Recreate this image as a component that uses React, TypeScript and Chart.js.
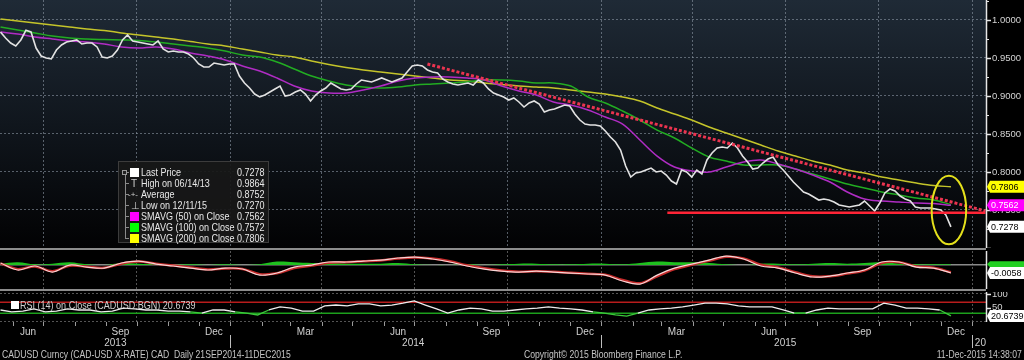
import React, { useEffect, useRef } from 'react';
import { Chart, registerables } from 'chart.js';

Chart.register(...registerables);

const SANS = '"Liberation Sans", Arial, sans-serif';

// ---------- x range ----------
const xStartDate = '2013-05-20';
const xEndDate = '2016-01-14';

// ---------- price (every 5 calendar days from start) ----------
const priceStartDate = '2013-05-20';
const priceStepDays = 5;
const priceValues = [
  0.9842, 0.9763, 0.9697, 0.9658, 0.9737, 0.9864, 0.9842, 0.9631, 0.9526, 0.9500,
  0.9487, 0.9605, 0.9671, 0.9710, 0.9724, 0.9737, 0.9684, 0.9697, 0.9697, 0.9645,
  0.9513, 0.9500, 0.9526, 0.9605, 0.9737, 0.9802, 0.9724, 0.9710, 0.9697, 0.9684,
  0.9671, 0.9724, 0.9618, 0.9579, 0.9592, 0.9579, 0.9579, 0.9552, 0.9500, 0.9421,
  0.9381, 0.9381, 0.9434, 0.9421, 0.9408, 0.9421, 0.9421, 0.9263, 0.9171, 0.9105,
  0.9026, 0.8987, 0.9013, 0.9052, 0.9092, 0.9131, 0.9000, 0.9013, 0.9052, 0.9079,
  0.9026, 0.8934, 0.9013, 0.9066, 0.9105, 0.9171, 0.9131, 0.9092, 0.9079, 0.9092,
  0.9158, 0.9210, 0.9197, 0.9184, 0.9210, 0.9237, 0.9210, 0.9184, 0.9210, 0.9237,
  0.9316, 0.9395, 0.9408, 0.9395, 0.9342, 0.9316, 0.9302, 0.9224, 0.9184, 0.9158,
  0.9145, 0.9158, 0.9171, 0.9145, 0.9210, 0.9171, 0.9092, 0.9039, 0.9013, 0.8987,
  0.8947, 0.8974, 0.8921, 0.8855, 0.8908, 0.8934, 0.8895, 0.8789, 0.8816, 0.8829,
  0.8855, 0.8881, 0.8868, 0.8763, 0.8684, 0.8631, 0.8618, 0.8618, 0.8605, 0.8539,
  0.8460, 0.8395, 0.8289, 0.8079, 0.7934, 0.7987, 0.8000, 0.8026, 0.8052, 0.8000,
  0.8013, 0.7960, 0.7881, 0.7842, 0.8026, 0.8000, 0.7934, 0.8026, 0.7974, 0.8158,
  0.8250, 0.8316, 0.8329, 0.8316, 0.8381, 0.8316, 0.8210, 0.8131, 0.8039, 0.8052,
  0.8118, 0.8171, 0.8197, 0.8092, 0.8026, 0.7947, 0.7868, 0.7802, 0.7737, 0.7710,
  0.7671, 0.7631, 0.7645, 0.7631, 0.7605, 0.7566, 0.7552, 0.7539, 0.7552, 0.7566,
  0.7618, 0.7552, 0.7487, 0.7592, 0.7724, 0.7776, 0.7750, 0.7684, 0.7645, 0.7618,
  0.7539, 0.7526, 0.7526, 0.7526, 0.7513, 0.7500, 0.7434, 0.7278,
];

// ---------- moving averages (every 17 days) ----------
const smaStartDate = '2013-05-20';
const smaStepDays = 17;
const sma50Values = [
  0.9842, 0.9816, 0.9776, 0.9750, 0.9724, 0.9710, 0.9684, 0.9645, 0.9631, 0.9645,
  0.9618, 0.9566, 0.9526, 0.9474, 0.9395, 0.9329, 0.9237, 0.9131, 0.9066, 0.9039,
  0.9039, 0.9079, 0.9131, 0.9197, 0.9237, 0.9250, 0.9250, 0.9237, 0.9210, 0.9131,
  0.9066, 0.9013, 0.8921, 0.8881, 0.8816, 0.8724, 0.8631, 0.8421, 0.8210, 0.8066,
  0.8013, 0.8000, 0.8066, 0.8131, 0.8158, 0.8105, 0.8039, 0.7960, 0.7868, 0.7737,
  0.7645, 0.7618, 0.7605, 0.7592, 0.7585, 0.7562,
];
const sma100Values = [
  0.9908, 0.9868, 0.9829, 0.9789, 0.9763, 0.9750, 0.9743, 0.9737, 0.9730, 0.9710,
  0.9684, 0.9658, 0.9631, 0.9592, 0.9539, 0.9513, 0.9447, 0.9355, 0.9263, 0.9197,
  0.9145, 0.9118, 0.9105, 0.9118, 0.9145, 0.9158, 0.9171, 0.9184, 0.9210, 0.9210,
  0.9197, 0.9171, 0.9171, 0.9131, 0.8987, 0.8908, 0.8802, 0.8684, 0.8552, 0.8447,
  0.8316, 0.8197, 0.8145, 0.8092, 0.8092, 0.8092, 0.8039, 0.7974, 0.7908, 0.7842,
  0.7789, 0.7737, 0.7697, 0.7658, 0.7631, 0.7572,
];
const sma200Values = [
  1.0013, 0.9987, 0.9960, 0.9934, 0.9908, 0.9881, 0.9862, 0.9829, 0.9802, 0.9776,
  0.9750, 0.9717, 0.9684, 0.9658, 0.9618, 0.9579, 0.9539, 0.9513, 0.9460, 0.9414,
  0.9375, 0.9342, 0.9316, 0.9289, 0.9263, 0.9237, 0.9210, 0.9197, 0.9171, 0.9151,
  0.9131, 0.9118, 0.9105, 0.9079, 0.9052, 0.9026, 0.8987, 0.8934, 0.8842, 0.8763,
  0.8684, 0.8592, 0.8513, 0.8434, 0.8355, 0.8276, 0.8210, 0.8145, 0.8092, 0.8026,
  0.7987, 0.7934, 0.7895, 0.7855, 0.7822, 0.7806,
];

// ---------- drawn annotations ----------
const trendLineDates = ['2014-07-14', '2016-01-14'];
const trendLineValues = [0.9421, 0.7487];
const supportLineDates = ['2015-03-07', '2016-01-14'];
const supportLineValues = [0.7465, 0.7465];
const highlightCenterDate = '2015-12-09';
const highlightCenterValue = 0.75;
const highlightHalfDays = 17;
const highlightHalfValue = 0.045;

// ---------- MACD (every 17 days) ----------
const macdStartDate = '2013-05-20';
const macdStepDays = 17;
const macdValues = [
  0.0015, -0.0036, -0.0007, -0.0051, 0.0000, -0.0015, -0.0022, 0.0015, 0.0029, 0.0007,
  -0.0007, -0.0022, -0.0036, -0.0022, -0.0029, -0.0073, -0.0058, -0.0015, 0.0000, 0.0022,
  0.0022, 0.0029, 0.0036, 0.0051, 0.0058, 0.0044, 0.0022, -0.0007, -0.0029, -0.0044,
  -0.0051, -0.0044, -0.0051, -0.0058, -0.0065, -0.0073, -0.0116, -0.0138, -0.0073, -0.0022,
  0.0007, 0.0036, 0.0065, 0.0044, -0.0007, -0.0022, -0.0058, -0.0087, -0.0080, -0.0058,
  -0.0036, 0.0022, 0.0022, -0.0015, -0.0022, -0.0058,
];
const macdSignalValues = [
  0.0012, -0.0030, -0.0010, -0.0045, -0.0005, -0.0012, -0.0020, 0.0010, 0.0025, 0.0010,
  -0.0004, -0.0018, -0.0032, -0.0025, -0.0028, -0.0066, -0.0060, -0.0022, -0.0004, 0.0016,
  0.0021, 0.0027, 0.0033, 0.0047, 0.0055, 0.0047, 0.0027, -0.0002, -0.0024, -0.0040,
  -0.0049, -0.0045, -0.0049, -0.0056, -0.0063, -0.0071, -0.0108, -0.0132, -0.0082, -0.0030,
  0.0002, 0.0031, 0.0060, 0.0048, 0.0002, -0.0018, -0.0052, -0.0082, -0.0081, -0.0062,
  -0.0040, 0.0015, 0.0021, -0.0010, -0.0020, -0.0052,
];
const macdHistValues = [
  0.0010, 0.0020, 0.0005, 0.0010, 0.0020, 0.0005, 0.0000, 0.0015, 0.0010, 0.0005,
  0.0000, 0.0005, 0.0000, 0.0005, 0.0000, 0.0005, 0.0025, 0.0020, 0.0015, 0.0015,
  0.0010, 0.0010, 0.0010, 0.0015, 0.0005, 0.0000, 0.0000, 0.0005, 0.0000, 0.0005,
  0.0010, 0.0010, 0.0005, 0.0005, 0.0010, 0.0010, 0.0005, 0.0015, 0.0025, 0.0020,
  0.0020, 0.0015, 0.0005, 0.0000, 0.0010, 0.0010, 0.0005, 0.0010, 0.0015, 0.0010,
  0.0015, 0.0020, 0.0010, 0.0005, 0.0005, 0.0005,
];

// ---------- RSI (every 11 days) ----------
const rsiStartDate = '2013-05-20';
const rsiStepDays = 11;
const rsiValues = [
  42, 35, 38, 46, 35, 38, 46, 42, 42, 35,
  38, 49, 46, 42, 42, 38, 38, 35, 31, 42,
  42, 35, 31, 24, 42, 53, 49, 38, 38, 57,
  60, 57, 64, 64, 57, 60, 67, 75, 60, 46,
  31, 42, 49, 46, 38, 38, 42, 46, 49, 53,
  49, 46, 42, 35, 31, 24, 20, 31, 42, 46,
  49, 53, 60, 67, 67, 64, 57, 53, 53, 53,
  42, 31, 31, 42, 49, 46, 46, 46, 46, 67,
  60, 49, 49, 46, 42, 20.6739,
];
const rsiUpperLevel = 70;
const rsiLowerLevel = 30;

// ---------- axes ----------
const mainMin = 0.70;
const mainMax = 1.0263;
const mainTicks = [0.75, 0.8, 0.85, 0.9, 0.95, 1.0];
const mainMinorTicks = [0.725, 0.775, 0.825, 0.875, 0.925, 0.975, 1.025];
const macdMin = -0.0174;
const macdMax = 0.0102;
const rsiMin = -1.5;
const rsiMax = 107.2;
const rsiTicks = [0, 50, 100];

const gridDates = [
  '2013-07-01', '2013-10-01', '2014-01-01', '2014-04-01', '2014-07-01', '2014-10-01',
  '2015-01-01', '2015-04-01', '2015-07-01', '2015-10-01', '2016-01-01',
];
const monthTickDates = [
  '2013-06-01', '2013-07-01', '2013-08-01', '2013-09-01', '2013-10-01', '2013-11-01', '2013-12-01',
  '2014-01-01', '2014-02-01', '2014-03-01', '2014-04-01', '2014-05-01', '2014-06-01',
  '2014-07-01', '2014-08-01', '2014-09-01', '2014-10-01', '2014-11-01', '2014-12-01',
  '2015-01-01', '2015-02-01', '2015-03-01', '2015-04-01', '2015-05-01', '2015-06-01',
  '2015-07-01', '2015-08-01', '2015-09-01', '2015-10-01', '2015-11-01', '2015-12-01', '2016-01-01',
];
const monthLabelDates = [
  '2013-06-16', '2013-09-15', '2013-12-16', '2014-03-16', '2014-06-15', '2014-09-15',
  '2014-12-16', '2015-03-16', '2015-06-15', '2015-09-15', '2015-12-16',
];
const monthLabelTexts = ['Jun', 'Sep', 'Dec', 'Mar', 'Jun', 'Sep', 'Dec', 'Mar', 'Jun', 'Sep', 'Dec'];
const yearLabelDates = ['2013-09-10', '2014-06-30', '2015-07-01', '2016-01-09'];
const yearLabelTexts = ['2013', '2014', '2015', '20'];
const yearSepDates = ['2014-01-01', '2015-01-01', '2016-01-01'];

// ---------- legend ----------
const legendLabels = [
  'Last Price', 'High on 06/14/13', 'Average', 'Low on 12/11/15',
  'SMAVG (50) on Close', 'SMAVG (100) on Close', 'SMAVG (200) on Close',
];
const legendValues = ['0.7278', '0.9864', '0.8752', '0.7270', '0.7562', '0.7572', '0.7806'];
const legendSwatches = ['#ffffff', '', '', '', '#ff00ff', '#00ff00', '#ffff00'];
const legendGlyphs = ['', 'T', '-+-', '⊥', '', '', ''];

const footerLeft = 'CADUSD Curncy (CAD-USD X-RATE) CAD  Daily 21SEP2014-11DEC2015';
const footerMid = 'Copyright\u00a9 2015 Bloomberg Finance L.P.';
const footerRight = '11-Dec-2015 14:38:07';
const rsiLegendText = 'RSI (14) on Close (CADUSD BGN) 20.6739';

// ---------- helpers ----------
const dayNum = (s: string) => {
  const [y, m, d] = s.split('-').map(Number);
  return Date.UTC(y, m - 1, d) / 86400000;
};
const xMin = dayNum(xStartDate) - 0.5;
const xMax = dayNum(xEndDate) + 0.5;
const stepPoints = (start: string, step: number, values: number[]) =>
  values.map((v, i) => ({ x: dayNum(start) + i * step, y: v }));
const datedPoints = (dates: string[], values: number[]) =>
  dates.map((d, i) => ({ x: dayNum(d), y: values[i] }));
const last = (a: number[]) => a[a.length - 1];

const GRID = 'rgba(140,152,165,0.6)';
const GRID_LOW = 'rgba(120,120,120,0.7)';

const xScale = (height: number, color: string) => ({
  type: 'linear',
  min: xMin,
  max: xMax,
  afterBuildTicks: (s: any) => {
    s.ticks = gridDates.map((d) => ({ value: dayNum(d) }));
  },
  ticks: { display: false },
  grid: { color, lineWidth: 1, drawTicks: false },
  border: { display: false, dash: [2, 2] },
  afterFit: (s: any) => {
    s.height = height;
    s.paddingLeft = 0;
    s.paddingRight = 0;
  },
});

const fixRight = (s: any) => {
  s.width = 38;
  s.paddingTop = 0;
  s.paddingBottom = 0;
};

type Tag = { value: number; text: string; bg: string; fg: string; h?: number };

const tagsPlugin = (tags: Tag[]) => ({
  id: 'tags',
  afterDraw(chart: any) {
    const { ctx, chartArea, scales } = chart;
    ctx.save();
    tags.forEach((t) => {
      const py = scales.y.getPixelForValue(t.value);
      const x0 = chartArea.right + 1;
      const h = t.h || 12;
      const w = 37;
      ctx.beginPath();
      ctx.moveTo(x0, py);
      ctx.lineTo(x0 + 3, py - h / 2);
      ctx.lineTo(x0 + w, py - h / 2);
      ctx.lineTo(x0 + w, py + h / 2);
      ctx.lineTo(x0 + 3, py + h / 2);
      ctx.closePath();
      ctx.fillStyle = t.bg;
      ctx.fill();
      if (t.text) {
        ctx.fillStyle = t.fg;
        ctx.font = `9px ${SANS}`;
        ctx.textAlign = 'left';
        ctx.textBaseline = 'middle';
        ctx.fillText(t.text, x0 + 4, py + 0.5);
      }
    });
    ctx.restore();
  },
});

const axisMarksPlugin = (majors: number[], minors: number[]) => ({
  id: 'axisMarks',
  afterDraw(chart: any) {
    const { ctx, chartArea, scales } = chart;
    ctx.save();
    ctx.strokeStyle = '#e6e6e6';
    ctx.lineWidth = 1.5;
    ctx.beginPath();
    ctx.moveTo(chartArea.right + 0.5, chartArea.top);
    ctx.lineTo(chartArea.right + 0.5, chartArea.bottom);
    ctx.stroke();
    majors.forEach((v) => {
      const py = Math.round(scales.y.getPixelForValue(v)) + 0.5;
      ctx.beginPath();
      ctx.moveTo(chartArea.right, py);
      ctx.lineTo(chartArea.right + 5, py);
      ctx.stroke();
    });
    ctx.lineWidth = 1;
    minors.forEach((v) => {
      const py = Math.round(scales.y.getPixelForValue(v)) + 0.5;
      ctx.beginPath();
      ctx.moveTo(chartArea.right, py);
      ctx.lineTo(chartArea.right + 3, py);
      ctx.stroke();
    });
    ctx.restore();
  },
});

const bgPlugin = {
  id: 'bg',
  beforeDraw(chart: any) {
    const { ctx, chartArea } = chart;
    const g = ctx.createLinearGradient(0, chartArea.top, 0, chartArea.bottom);
    g.addColorStop(0, '#1f2a36');
    g.addColorStop(0.5, '#10161d');
    g.addColorStop(1, '#020203');
    ctx.save();
    ctx.fillStyle = g;
    ctx.fillRect(chartArea.left, chartArea.top, chartArea.right - chartArea.left, chartArea.bottom - chartArea.top);
    ctx.restore();
  },
};

const ellipsePlugin = {
  id: 'highlight',
  afterDatasetsDraw(chart: any) {
    const { ctx, scales } = chart;
    const cx = scales.x.getPixelForValue(dayNum(highlightCenterDate));
    const cy = scales.y.getPixelForValue(highlightCenterValue);
    const rx = scales.x.getPixelForValue(dayNum(highlightCenterDate) + highlightHalfDays) - cx;
    const ry = cy - scales.y.getPixelForValue(highlightCenterValue + highlightHalfValue);
    ctx.save();
    ctx.strokeStyle = '#e4e01c';
    ctx.lineWidth = 2;
    ctx.beginPath();
    ctx.ellipse(cx, cy, rx, ry, 0, 0, Math.PI * 2);
    ctx.stroke();
    ctx.restore();
  },
};

const xLabelsPlugin = {
  id: 'xLabels',
  afterDraw(chart: any) {
    const { ctx, chartArea, scales } = chart;
    const x = scales.x;
    const top = chartArea.bottom;
    ctx.save();
    ctx.strokeStyle = '#9a9a9a';
    ctx.lineWidth = 1;
    monthTickDates.forEach((d) => {
      const px = Math.round(x.getPixelForValue(dayNum(d))) + 0.5;
      ctx.beginPath();
      ctx.moveTo(px, top);
      ctx.lineTo(px, top + 4);
      ctx.stroke();
    });
    ctx.strokeStyle = '#bdbdbd';
    yearSepDates.forEach((d) => {
      const px = Math.round(x.getPixelForValue(dayNum(d))) + 0.5;
      ctx.beginPath();
      ctx.moveTo(px, top + 13);
      ctx.lineTo(px, top + 26);
      ctx.stroke();
    });
    ctx.fillStyle = '#d0d0d0';
    ctx.font = `10px ${SANS}`;
    ctx.textAlign = 'center';
    ctx.textBaseline = 'middle';
    monthLabelDates.forEach((d, i) => ctx.fillText(monthLabelTexts[i], x.getPixelForValue(dayNum(d)), top + 10));
    yearLabelDates.forEach((d, i) => ctx.fillText(yearLabelTexts[i], x.getPixelForValue(dayNum(d)), top + 21));
    ctx.restore();
  },
};

const baseOptions = {
  animation: false,
  responsive: false,
  maintainAspectRatio: false,
  events: [],
  layout: { padding: 0 },
  plugins: { legend: { display: false }, tooltip: { enabled: false } },
  elements: { point: { radius: 0 } },
};

const condensed = (origin: string) => ({
  display: 'inline-block',
  transform: 'scaleX(0.82)',
  transformOrigin: origin,
});

export default function App() {
  const mainRef = useRef<HTMLCanvasElement>(null);
  const macdRef = useRef<HTMLCanvasElement>(null);
  const rsiRef = useRef<HTMLCanvasElement>(null);

  useEffect(() => {
    const charts: Chart[] = [];

    charts.push(
      new Chart(mainRef.current as HTMLCanvasElement, {
        type: 'line',
        data: {
          datasets: [
            {
              label: 'Trend',
              data: datedPoints(trendLineDates, trendLineValues),
              borderColor: '#ec3450',
              borderWidth: 3,
              borderDash: [3, 2],
              pointRadius: 0,
              order: 0,
            },
            {
              label: 'Support',
              data: datedPoints(supportLineDates, supportLineValues),
              borderColor: '#ff2436',
              borderWidth: 2.5,
              pointRadius: 0,
              order: 0,
            },
            {
              label: 'Last Price',
              data: stepPoints(priceStartDate, priceStepDays, priceValues),
              borderColor: '#e2e2e2',
              borderWidth: 1.6,
              pointRadius: 0,
              order: 1,
            },
            {
              label: 'SMAVG (50)',
              data: stepPoints(smaStartDate, smaStepDays, sma50Values),
              borderColor: '#b02cc4',
              borderWidth: 1.5,
              pointRadius: 0,
              tension: 0.35,
              order: 2,
            },
            {
              label: 'SMAVG (100)',
              data: stepPoints(smaStartDate, smaStepDays, sma100Values),
              borderColor: '#22ac22',
              borderWidth: 1.5,
              pointRadius: 0,
              tension: 0.35,
              order: 3,
            },
            {
              label: 'SMAVG (200)',
              data: stepPoints(smaStartDate, smaStepDays, sma200Values),
              borderColor: '#c4c42a',
              borderWidth: 1.5,
              pointRadius: 0,
              tension: 0.35,
              order: 4,
            },
          ],
        },
        options: {
          ...baseOptions,
          scales: {
            x: xScale(0, GRID),
            y: {
              type: 'linear',
              position: 'right',
              min: mainMin,
              max: mainMax,
              afterBuildTicks: (s: any) => {
                s.ticks = mainTicks.map((v) => ({ value: v }));
              },
              ticks: {
                color: '#d4d4d4',
                font: { family: SANS, size: 9.5 },
                padding: 6,
                callback: (v: any) => Number(v).toFixed(4),
              },
              grid: { color: GRID, lineWidth: 1, drawTicks: false },
              border: { display: false, dash: [2, 2] },
              afterFit: fixRight,
            },
          },
        } as any,
        plugins: [
          bgPlugin,
          ellipsePlugin,
          axisMarksPlugin([0.7, ...mainTicks], mainMinorTicks),
          tagsPlugin([
            { value: last(sma200Values), text: last(sma200Values).toFixed(4), bg: '#ffff00', fg: '#000' },
            { value: last(sma50Values), text: last(sma50Values).toFixed(4), bg: '#ff00ff', fg: '#fff' },
            { value: last(priceValues), text: last(priceValues).toFixed(4), bg: '#ffffff', fg: '#000' },
          ]),
        ],
      } as any)
    );

    charts.push(
      new Chart(macdRef.current as HTMLCanvasElement, {
        type: 'line',
        data: {
          datasets: [
            {
              label: 'MACD',
              data: stepPoints(macdStartDate, macdStepDays, macdValues),
              borderColor: '#f6d6d6',
              borderWidth: 1.2,
              pointRadius: 0,
              tension: 0.35,
              order: 0,
            },
            {
              label: 'Signal',
              data: stepPoints(macdStartDate, macdStepDays, macdSignalValues),
              borderColor: '#c42a2a',
              borderWidth: 2.5,
              pointRadius: 0,
              tension: 0.35,
              order: 1,
            },
            {
              label: 'Histogram',
              data: stepPoints(macdStartDate, macdStepDays, macdHistValues),
              borderWidth: 0,
              borderColor: 'rgba(0,0,0,0)',
              backgroundColor: '#1fc01f',
              fill: 'origin',
              pointRadius: 0,
              tension: 0.35,
              order: 2,
            },
          ],
        },
        options: {
          ...baseOptions,
          scales: {
            x: xScale(0, GRID_LOW),
            y: {
              type: 'linear',
              position: 'right',
              min: macdMin,
              max: macdMax,
              afterBuildTicks: (s: any) => {
                s.ticks = [{ value: 0 }];
              },
              ticks: { display: false },
              grid: { color: '#8a8a8a', lineWidth: 1.5, drawTicks: false },
              border: { display: false },
              afterFit: fixRight,
            },
          },
        } as any,
        plugins: [
          axisMarksPlugin([], []),
          tagsPlugin([
            { value: last(macdHistValues), text: '', bg: '#22d022', fg: '#000', h: 6 },
            { value: last(macdValues), text: last(macdValues).toFixed(4), bg: '#ffffff', fg: '#000' },
          ]),
        ],
      } as any)
    );

    charts.push(
      new Chart(rsiRef.current as HTMLCanvasElement, {
        type: 'line',
        data: {
          datasets: [
            {
              label: 'RSI',
              data: stepPoints(rsiStartDate, rsiStepDays, rsiValues),
              borderColor: '#ececec',
              borderWidth: 1.3,
              pointRadius: 0,
              order: 0,
              segment: {
                borderColor: (c: any) => ((c.p0.parsed.y + c.p1.parsed.y) / 2 < 34 ? '#3cc83c' : '#ececec'),
              },
            },
            {
              label: 'Upper',
              data: [{ x: xMin, y: rsiUpperLevel }, { x: xMax, y: rsiUpperLevel }],
              borderColor: '#b81c1c',
              borderWidth: 1.5,
              pointRadius: 0,
              order: 1,
            },
            {
              label: 'Lower',
              data: [{ x: xMin, y: rsiLowerLevel }, { x: xMax, y: rsiLowerLevel }],
              borderColor: '#1ca01c',
              borderWidth: 1.5,
              pointRadius: 0,
              order: 1,
            },
          ],
        },
        options: {
          ...baseOptions,
          scales: {
            x: xScale(38, GRID_LOW),
            y: {
              type: 'linear',
              position: 'right',
              min: rsiMin,
              max: rsiMax,
              afterBuildTicks: (s: any) => {
                s.ticks = rsiTicks.map((v) => ({ value: v }));
              },
              ticks: {
                color: '#d4d4d4',
                font: { family: SANS, size: 9.5 },
                padding: 6,
                callback: (v: any) => (Number(v) === 0 ? '' : String(v)),
              },
              grid: {
                color: (c: any) => (c.tick && c.tick.value === 50 ? 'rgba(0,0,0,0)' : GRID_LOW),
                lineWidth: 1,
                drawTicks: false,
              },
              border: { display: false, dash: [2, 2] },
              afterFit: fixRight,
            },
          },
        } as any,
        plugins: [
          axisMarksPlugin([100, 50], []),
          xLabelsPlugin,
          tagsPlugin([{ value: last(rsiValues), text: last(rsiValues).toFixed(4), bg: '#ffffff', fg: '#000' }]),
        ],
      } as any)
    );

    return () => charts.forEach((c) => c.destroy());
  }, []);

  const rowTop = (i: number) => 5.2 + i * 10.93;

  return (
    <div
      style={{
        position: 'absolute',
        left: 0,
        top: 0,
        width: 1024,
        height: 360,
        background: '#000',
        overflow: 'hidden',
        fontFamily: SANS,
      }}
    >
      <canvas ref={mainRef} width={1024} height={248} style={{ position: 'absolute', left: 0, top: 0 }} />
      <div style={{ position: 'absolute', left: 0, top: 248, width: 986, height: 2, background: '#8c8c8c' }} />
      <canvas ref={macdRef} width={1024} height={38} style={{ position: 'absolute', left: 0, top: 251 }} />
      <div style={{ position: 'absolute', left: 0, top: 289, width: 986, height: 2, background: '#8c8c8c' }} />
      <canvas ref={rsiRef} width={1024} height={68} style={{ position: 'absolute', left: 0, top: 292 }} />

      {/* main legend */}
      <div
        style={{
          position: 'absolute',
          left: 118,
          top: 161,
          width: 151,
          height: 82,
          background: 'rgba(24,24,24,0.93)',
          border: '1px solid #3c3c3c',
          boxSizing: 'border-box',
        }}
      >
        <div style={{ position: 'absolute', left: 6, top: 10.7, width: 1, height: 6 * 10.93, background: '#8a8a8a' }} />
        {legendLabels.map((lab, i) => (
          <div
            key={lab}
            style={{
              position: 'absolute',
              left: 0,
              top: rowTop(i),
              width: '100%',
              height: 11,
              fontSize: 11,
              lineHeight: '11px',
              color: '#e8e8e8',
              whiteSpace: 'nowrap',
            }}
          >
            <div style={{ position: 'absolute', left: 6, top: 5, width: 4, height: 1, background: '#8a8a8a' }} />
            {i === 0 && (
              <div
                style={{
                  position: 'absolute',
                  left: 3,
                  top: 2.5,
                  width: 5,
                  height: 5,
                  border: '1px solid #9a9a9a',
                  background: '#222',
                  boxSizing: 'border-box',
                }}
              />
            )}
            {legendSwatches[i] ? (
              <div
                style={{
                  position: 'absolute',
                  left: 11,
                  top: 1,
                  width: 9,
                  height: 9,
                  background: legendSwatches[i],
                }}
              />
            ) : (
              <span
                style={{
                  position: 'absolute',
                  left: legendGlyphs[i] === '-+-' ? 9 : 12,
                  top: 0,
                  fontSize: legendGlyphs[i] === '-+-' ? 8 : 10,
                  color: '#cfcfcf',
                }}
              >
                {legendGlyphs[i]}
              </span>
            )}
            <span style={{ position: 'absolute', left: 22, top: 0, ...condensed('left center') }}>{lab}</span>
            <span style={{ position: 'absolute', left: 118, top: 0, ...condensed('left center') }}>{legendValues[i]}</span>
          </div>
        ))}
      </div>

      {/* RSI legend */}
      <div style={{ position: 'absolute', left: 11, top: 301, width: 8, height: 8, background: '#ffffff' }} />
      <div
        style={{
          position: 'absolute',
          left: 20,
          top: 299,
          fontSize: 11,
          lineHeight: '12px',
          color: '#cfcfcf',
          whiteSpace: 'nowrap',
          ...condensed('left center'),
        }}
      >
        {rsiLegendText}
      </div>

      {/* footer */}
      <div
        style={{
          position: 'absolute',
          left: 2,
          top: 348,
          fontSize: 10.5,
          lineHeight: '12px',
          color: '#c4c4c4',
          whiteSpace: 'pre',
          ...condensed('left center'),
        }}
      >
        {footerLeft}
      </div>
      <div
        style={{
          position: 'absolute',
          left: 524,
          top: 348,
          fontSize: 10.5,
          lineHeight: '12px',
          color: '#c4c4c4',
          whiteSpace: 'nowrap',
          ...condensed('left center'),
        }}
      >
        {footerMid}
      </div>
      <div
        style={{
          position: 'absolute',
          right: 2,
          top: 348,
          fontSize: 10.5,
          lineHeight: '12px',
          color: '#c4c4c4',
          whiteSpace: 'nowrap',
          ...condensed('right center'),
        }}
      >
        {footerRight}
      </div>
    </div>
  );
}
